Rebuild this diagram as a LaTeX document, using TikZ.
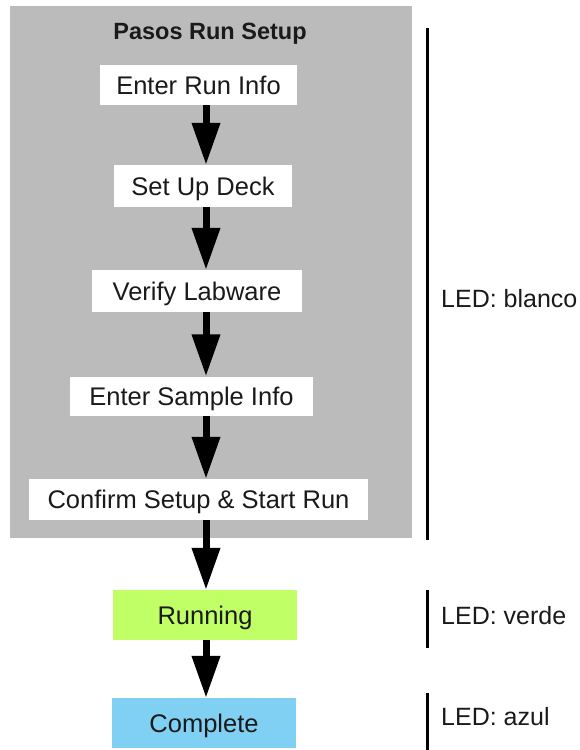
\documentclass[tikz,border=0pt]{standalone}
\usepackage{fontspec}
\setmainfont{Liberation Sans}
\usetikzlibrary{arrows.meta}
\definecolor{panelgray}{HTML}{BBBBBB}
\definecolor{rungreen}{HTML}{C0FF66}
\definecolor{doneblue}{HTML}{80D0F4}
\definecolor{ink}{HTML}{1A1A1A}
\begin{document}
\begin{tikzpicture}[x=1pt,y=-1pt,
  stepbox/.style={fill=white,draw=none,inner sep=0pt,text=ink,
    text height=18pt,text depth=0pt,
    font=\fontsize{25.5}{30}\selectfont},
  flow/.style={line width=7pt,-{Triangle[width=27pt,length=42pt]}},
  ledbar/.style={line width=3pt},
  ledtext/.style={anchor=west,inner sep=0pt,text=ink,
    text height=18pt,text depth=0pt,
    font=\fontsize{25}{30}\selectfont}]
\useasboundingbox (0,0) rectangle (579,750);
% grey panel holding the setup steps
\node[fill=panelgray,minimum width=402pt,minimum height=532pt,inner sep=0pt] (panel) at (211,272) {};
\node[text=ink,inner sep=0pt,text height=17pt,text depth=0pt,
  font=\fontsize{23.5}{28}\selectfont\bfseries] (title) at (210,31) {Pasos Run Setup};
% steps
\node[stepbox,minimum width=197pt,minimum height=40pt] (s1) at (198.5,85) {Enter Run Info};
\node[stepbox,minimum width=178pt,minimum height=42pt] (s2) at (203,186) {Set Up Deck};
\node[stepbox,minimum width=210pt,minimum height=42pt] (s3) at (197,291) {Verify Labware};
\node[stepbox,minimum width=243pt,minimum height=39pt] (s4) at (191.5,396) {Enter Sample Info};
\node[stepbox,minimum width=339pt,minimum height=41pt] (s5) at (198.5,499.5) {Confirm Setup \& Start Run};
\node[stepbox,fill=rungreen,minimum width=184pt,minimum height=50pt] (run) at (205,615) {Running};
\node[stepbox,fill=doneblue,minimum width=184pt,minimum height=50pt] (done) at (204,723) {Complete};
% arrow axis
\coordinate (ax) at (206,0);
\draw[flow] (s1.south -| ax) -- (s2.north -| ax);
\draw[flow] (s2.south -| ax) -- (s3.north -| ax);
\draw[flow] (s3.south -| ax) -- (s4.north -| ax);
\draw[flow] (s4.south -| ax) -- (s5.north -| ax);
\draw[flow] (s5.south -| ax) -- (run.north -| ax);
\draw[flow] (run.south -| ax) -- (done.north -| ax);
% LED state brackets
\coordinate (w1) at (427,28);  \coordinate (w2) at (427,540);
\coordinate (g1) at (427,590); \coordinate (g2) at (427,648);
\coordinate (b1) at (427,693); \coordinate (b2) at (427,750);
\draw[ledbar] (w1) -- (w2);
\draw[ledbar] (g1) -- (g2);
\draw[ledbar] (b1) -- (b2);
\node[ledtext] (lw) at (441,298) {LED: blanco};
\node[ledtext] (lg) at (441,615) {LED: verde};
\node[ledtext] (lb) at (441,716) {LED: azul};
\end{tikzpicture}
\end{document}
